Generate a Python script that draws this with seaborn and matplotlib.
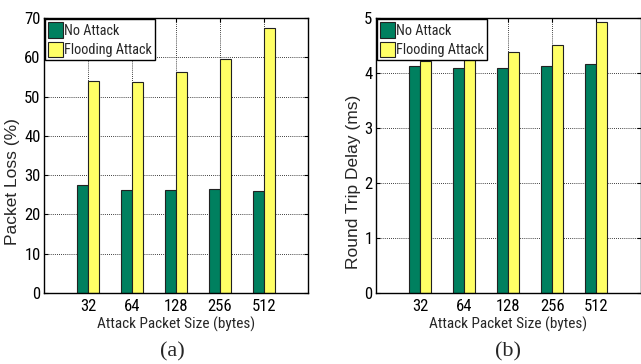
import matplotlib
matplotlib.use("Agg")
import matplotlib.pyplot as plt
import seaborn as sns
import pandas as pd

sizes = ["32", "64", "128", "256", "512"]
series = ["No Attack", "Flooding Attack"]
loss_no = [27.5, 26.1, 26.2, 26.5, 25.9]
loss_flood = [54.0, 53.6, 56.2, 59.6, 67.4]
rtt_no = [4.12, 4.10, 4.09, 4.12, 4.16]
rtt_flood = [4.22, 4.27, 4.38, 4.51, 4.93]

colors = ["#00805F", "#FFFF66"]

sns.set_theme(style="white")
plt.rcParams["font.family"] = ["Roboto Condensed", "DejaVu Sans"]

def long(a, b):
    rows = []
    for s, v in zip(sizes, a):
        rows.append({"size": s, "series": series[0], "value": v})
    for s, v in zip(sizes, b):
        rows.append({"size": s, "series": series[1], "value": v})
    return pd.DataFrame(rows)

fig = plt.figure(figsize=(6.41, 3.64), dpi=100)
ax1 = fig.add_axes([44/641, 1-293/364, (308-44)/641, (293-18)/364])
ax2 = fig.add_axes([376/641, 1-293/364, (640.5-376)/641, (293-18)/364])

def draw(ax, df, ylim, yticks, ylabel, ylx, cap, capx):
    sns.barplot(data=df, x="size", y="value", hue="series", order=sizes,
                hue_order=series, palette=colors, width=0.5, gap=0,
                edgecolor="#222222", linewidth=0.8, ax=ax, errorbar=None,
                saturation=1)
    ax.set_xlim(-1, 5)
    ax.set_ylim(*ylim)
    ax.set_yticks(yticks)
    ax.set_yticklabels([str(t) for t in yticks], fontsize=12)
    ax.set_xticks(range(len(sizes)))
    ax.set_xticklabels(sizes, fontsize=12)
    ax.set_xlabel("Attack Packet Size (bytes)", fontsize=11, labelpad=2)
    ax.set_ylabel(ylabel, fontsize=12.5, family=["Liberation Sans", "DejaVu Sans"])
    ax.yaxis.set_label_coords(ylx, 0.5, transform=fig.transFigure)
    ax.grid(True, color="black", linestyle=(0, (1, 1.5)), linewidth=0.6)
    ax.set_axisbelow(True)
    for sp in ax.spines.values():
        sp.set_visible(True)
        sp.set_color("black")
        sp.set_linewidth(1.0)
    ax.tick_params(direction="in", length=3, width=0.8, top=True, right=True,
                   left=True, bottom=True, pad=2.5, colors="black")
    ax.tick_params(axis="x", pad=4.5)
    leg = ax.legend(loc="upper left", fontsize=10.3, frameon=True, fancybox=False,
                    edgecolor="black", framealpha=1, borderpad=0.18,
                    borderaxespad=0.1, handlelength=1.05, handleheight=1.3,
                    handletextpad=0.1, labelspacing=0.28)
    leg.get_frame().set_linewidth(1.0)
    fig.text(capx, 1-352/364, cap, family=["Liberation Serif", "DejaVu Serif"],
             fontsize=16, ha="center", va="center")

draw(ax1, long(loss_no, loss_flood), (0, 70), [0, 10, 20, 30, 40, 50, 60, 70],
     "Packet Loss (%)", 20/641, "(a)", 172/641)
draw(ax2, long(rtt_no, rtt_flood), (0, 5), [0, 1, 2, 3, 4, 5],
     "Round Trip Delay (ms)", 361/641, "(b)", 508/641)

fig.savefig("out.png", dpi=100)
